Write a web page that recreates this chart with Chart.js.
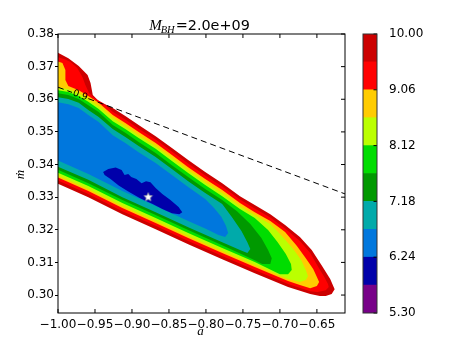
<!DOCTYPE html>
<html><head><meta charset="utf-8">
<script src="https://cdn.jsdelivr.net/npm/chart.js@4.4.1/dist/chart.umd.min.js"></script>
<style>
html,body{margin:0;padding:0;background:#fff;}
#wrap{position:relative;width:463px;height:348px;overflow:hidden;background:#fff;}
#main{position:absolute;left:0;top:0;}
#cbar{position:absolute;left:355px;top:0;}
</style></head><body>
<div id="wrap"><canvas id="main" width="463" height="348"></canvas><canvas id="cbar" width="108" height="348"></canvas></div>
<script>
// ---------- data ----------
const xTicks = [-1.00,-0.95,-0.90,-0.85,-0.80,-0.75,-0.70,-0.65];
const yTicks = [0.30,0.31,0.32,0.33,0.34,0.35,0.36,0.37,0.38];
const xRange = [-1.00,-0.612];
const yRange = [0.2945,0.38];
const levels = [5.30,5.77,6.24,6.71,7.18,7.65,8.12,8.59,9.06,9.53,10.00];
const levelColors = ['#770088','#0000aa','#0077dd','#00aaaa','#009900','#00dd00','#bbff00','#ffcc00','#ff0000','#cc0000'];
const cbarTicks = [5.30,6.24,7.18,8.12,9.06,10.00];
const titleMain = 'M', titleSub = 'BH', titleRest = '=2.0e+09';
const xLabel = 'a', yLabel = '\u1E41';
const bestFit = [-0.878,0.3300];
const dashSegA = [[-1.000,0.3637],[-0.981,0.3621]];
const dashSegB = [[-0.959,0.3602],[-0.612,0.3310]];
const dashLabel = {text:'0.9', a:-0.970, m:0.3612};

// region where value < 10.00
const regionLt1000 = [[-1.002,0.3745],[-0.986,0.3726],[-0.972,0.3702],[-0.960,0.3674],[-0.956,0.3650],[-0.953,0.3613],[-0.945,0.3595],[-0.926,0.3573],[-0.909,0.3549],[-0.891,0.3521],[-0.868,0.3487],[-0.846,0.3451],[-0.824,0.3414],[-0.801,0.3377],[-0.778,0.3343],[-0.754,0.3303],[-0.734,0.3276],[-0.713,0.3248],[-0.693,0.3215],[-0.673,0.3178],[-0.657,0.3138],[-0.643,0.3089],[-0.632,0.3049],[-0.626,0.3018],[-0.630,0.3003],[-0.638,0.2997],[-0.646,0.2997],[-0.659,0.3003],[-0.689,0.3025],[-0.734,0.3067],[-0.778,0.3110],[-0.824,0.3156],[-0.868,0.3202],[-0.913,0.3248],[-0.959,0.3300],[-1.002,0.3343]];
const regionLt953 = [[-1.002,0.3730],[-0.991,0.3723],[-0.983,0.3714],[-0.974,0.3696],[-0.967,0.3668],[-0.963,0.3644],[-0.958,0.3619],[-0.951,0.3604],[-0.940,0.3589],[-0.926,0.3562],[-0.909,0.3538],[-0.891,0.3510],[-0.868,0.3477],[-0.846,0.3440],[-0.824,0.3403],[-0.801,0.3366],[-0.778,0.3333],[-0.754,0.3293],[-0.734,0.3265],[-0.713,0.3238],[-0.693,0.3204],[-0.673,0.3166],[-0.659,0.3129],[-0.649,0.3089],[-0.640,0.3055],[-0.635,0.3034],[-0.634,0.3025],[-0.638,0.3015],[-0.649,0.3009],[-0.659,0.3012],[-0.689,0.3034],[-0.734,0.3077],[-0.778,0.3120],[-0.824,0.3166],[-0.868,0.3212],[-0.913,0.3257],[-0.959,0.3310],[-1.002,0.3353]];
const regionLt906 = [[-1.002,0.3717],[-0.994,0.3711],[-0.990,0.3690],[-0.990,0.3659],[-0.986,0.3641],[-0.972,0.3628],[-0.959,0.3610],[-0.945,0.3589],[-0.926,0.3552],[-0.909,0.3527],[-0.891,0.3500],[-0.868,0.3466],[-0.846,0.3429],[-0.824,0.3392],[-0.801,0.3356],[-0.778,0.3322],[-0.754,0.3282],[-0.734,0.3254],[-0.713,0.3227],[-0.693,0.3193],[-0.677,0.3150],[-0.665,0.3113],[-0.655,0.3080],[-0.650,0.3055],[-0.647,0.3040],[-0.650,0.3028],[-0.659,0.3021],[-0.673,0.3031],[-0.689,0.3043],[-0.734,0.3086],[-0.778,0.3129],[-0.824,0.3175],[-0.868,0.3221],[-0.913,0.3267],[-0.959,0.3319],[-1.002,0.3362]];
const regionLt859 = [[-1.002,0.3638],[-0.986,0.3631],[-0.972,0.3619],[-0.959,0.3601],[-0.945,0.3579],[-0.926,0.3543],[-0.909,0.3518],[-0.891,0.3490],[-0.868,0.3457],[-0.846,0.3420],[-0.824,0.3383],[-0.801,0.3346],[-0.778,0.3313],[-0.754,0.3273],[-0.734,0.3245],[-0.713,0.3218],[-0.696,0.3178],[-0.682,0.3141],[-0.671,0.3107],[-0.665,0.3077],[-0.662,0.3058],[-0.665,0.3046],[-0.673,0.3040],[-0.689,0.3049],[-0.734,0.3092],[-0.778,0.3135],[-0.824,0.3181],[-0.868,0.3227],[-0.913,0.3273],[-0.959,0.3325],[-1.002,0.3368]];
const regionLt812 = [[-1.002,0.3628],[-0.986,0.3622],[-0.972,0.3610],[-0.959,0.3592],[-0.945,0.3570],[-0.926,0.3533],[-0.909,0.3509],[-0.891,0.3481],[-0.868,0.3448],[-0.846,0.3411],[-0.824,0.3374],[-0.801,0.3337],[-0.778,0.3303],[-0.754,0.3264],[-0.734,0.3236],[-0.716,0.3199],[-0.703,0.3162],[-0.692,0.3126],[-0.685,0.3095],[-0.684,0.3077],[-0.689,0.3064],[-0.700,0.3064],[-0.734,0.3101],[-0.778,0.3144],[-0.824,0.3190],[-0.868,0.3236],[-0.913,0.3282],[-0.959,0.3334],[-1.002,0.3377]];
const regionLt765 = [[-1.002,0.3619],[-0.986,0.3613],[-0.972,0.3601],[-0.959,0.3582],[-0.945,0.3561],[-0.926,0.3521],[-0.909,0.3497],[-0.891,0.3469],[-0.868,0.3435],[-0.846,0.3398],[-0.824,0.3362],[-0.801,0.3325],[-0.778,0.3291],[-0.758,0.3257],[-0.740,0.3218],[-0.725,0.3175],[-0.716,0.3138],[-0.711,0.3113],[-0.713,0.3095],[-0.724,0.3095],[-0.734,0.3107],[-0.778,0.3153],[-0.824,0.3199],[-0.868,0.3245],[-0.913,0.3291],[-0.959,0.3343],[-1.002,0.3386]];
const regionLt718 = [[-1.002,0.3607],[-0.986,0.3601],[-0.972,0.3589],[-0.959,0.3567],[-0.945,0.3546],[-0.926,0.3509],[-0.909,0.3484],[-0.891,0.3457],[-0.868,0.3423],[-0.846,0.3386],[-0.824,0.3349],[-0.801,0.3313],[-0.778,0.3279],[-0.765,0.3239],[-0.752,0.3196],[-0.744,0.3162],[-0.740,0.3141],[-0.744,0.3129],[-0.754,0.3138],[-0.778,0.3162],[-0.824,0.3208],[-0.868,0.3254],[-0.913,0.3300],[-0.959,0.3353],[-1.002,0.3395]];
const regionLt671 = [[-1.002,0.3592],[-0.986,0.3585],[-0.972,0.3573],[-0.959,0.3552],[-0.945,0.3530],[-0.926,0.3490],[-0.909,0.3466],[-0.891,0.3438],[-0.868,0.3405],[-0.846,0.3368],[-0.824,0.3331],[-0.801,0.3294],[-0.789,0.3267],[-0.779,0.3239],[-0.773,0.3212],[-0.770,0.3190],[-0.774,0.3178],[-0.783,0.3184],[-0.801,0.3204],[-0.824,0.3227],[-0.868,0.3273],[-0.913,0.3319],[-0.959,0.3371],[-1.002,0.3414]];
const regionLt624 = [[-0.939,0.3377],[-0.932,0.3386],[-0.922,0.3391],[-0.914,0.3383],[-0.910,0.3368],[-0.905,0.3371],[-0.901,0.3362],[-0.894,0.3356],[-0.887,0.3343],[-0.881,0.3349],[-0.875,0.3346],[-0.868,0.3328],[-0.859,0.3310],[-0.848,0.3291],[-0.837,0.3270],[-0.832,0.3254],[-0.836,0.3248],[-0.846,0.3251],[-0.859,0.3264],[-0.872,0.3279],[-0.889,0.3297],[-0.905,0.3317],[-0.918,0.3336],[-0.929,0.3356],[-0.937,0.3368]];

// region list, outermost first, paired with the colour index of its band
const regions = [regionLt1000,regionLt953,regionLt906,regionLt859,regionLt812,regionLt765,regionLt718,regionLt671,regionLt624];
const regionColorIdx = [9,8,7,6,5,4,3,2,1];

// ---------- rendering ----------
Chart.defaults.font.family = "'DejaVu Sans', sans-serif";
Chart.defaults.font.size = 12;
Chart.defaults.color = '#000';

const toXY = arr => arr.map(p => ({x:p[0], y:p[1]}));
const fmt = v => (v < 0 ? '\u2212' : '') + Math.abs(v).toFixed(2);

function starImage(r){
  const s = Math.ceil(r*2+3), c = document.createElement('canvas');
  c.width = s; c.height = s;
  const g = c.getContext('2d');
  g.beginPath();
  for (let i=0;i<10;i++){
    const ang = -Math.PI/2 + i*Math.PI/5, rr = (i%2) ? r*0.45 : r;
    g.lineTo(s/2 + rr*Math.cos(ang), s/2 + rr*Math.sin(ang));
  }
  g.closePath();
  g.fillStyle = '#fff'; g.fill();
  g.strokeStyle = '#9a9a9a'; g.lineWidth = 0.6; g.stroke();
  return c;
}

const datasets = regions.map((r,i) => ({
  type:'line', data: toXY(r), fill:'shape', backgroundColor: levelColors[regionColorIdx[i]],
  borderWidth:0, borderColor:'rgba(0,0,0,0)', pointRadius:0, tension:0, order: 100 - i
}));
[dashSegA, dashSegB].forEach(seg => datasets.push({
  type:'line', data: toXY(seg), fill:false, borderColor:'#000', borderWidth:1,
  borderDash:[6,4], pointRadius:0, tension:0, order:2
}));
datasets.push({type:'scatter', data: toXY([bestFit]), pointStyle: starImage(4.5), pointRadius:5, order:0});

const decor = {
  id:'decor',
  afterDraw(chart){
    const {ctx, chartArea:ca, scales:{x, y}} = chart;
    ctx.save();
    ctx.strokeStyle = '#000'; ctx.lineWidth = 1;
    ctx.beginPath();
    xTicks.forEach(v => { const px = x.getPixelForValue(v);
      ctx.moveTo(px, ca.bottom); ctx.lineTo(px, ca.bottom-4);
      ctx.moveTo(px, ca.top); ctx.lineTo(px, ca.top+4); });
    yTicks.forEach(v => { const py = y.getPixelForValue(v);
      ctx.moveTo(ca.right, py); ctx.lineTo(ca.right-4, py); });
    ctx.stroke();
    ctx.strokeRect(ca.left, ca.top, ca.right-ca.left, ca.bottom-ca.top);

    // contour label
    const p1 = [x.getPixelForValue(dashSegA[0][0]), y.getPixelForValue(dashSegA[0][1])];
    const p2 = [x.getPixelForValue(dashSegB[1][0]), y.getPixelForValue(dashSegB[1][1])];
    const ang = Math.atan2(p2[1]-p1[1], p2[0]-p1[0]);
    ctx.save();
    ctx.translate(x.getPixelForValue(dashLabel.a), y.getPixelForValue(dashLabel.m));
    ctx.rotate(ang);
    ctx.font = "9.5px 'DejaVu Sans'"; ctx.fillStyle = '#000';
    ctx.textAlign = 'center'; ctx.textBaseline = 'middle';
    ctx.fillText(dashLabel.text, 0, 0);
    ctx.restore();

    // title
    const cx = (ca.left + ca.right)/2, base = 29.5;
    const fM = "italic 15px 'Liberation Serif'", fS = "italic 10.5px 'Liberation Serif'", fN = "14.4px 'DejaVu Sans'";
    ctx.font = fM; const wM = ctx.measureText(titleMain).width;
    ctx.font = fS; const wS = ctx.measureText(titleSub).width;
    ctx.font = fN; const wN = ctx.measureText(titleRest).width;
    let tx = cx - (wM + wS + wN)/2 - 2;
    ctx.fillStyle = '#000'; ctx.textAlign = 'left'; ctx.textBaseline = 'alphabetic';
    ctx.font = fM; ctx.fillText(titleMain, tx, base); tx += wM;
    ctx.font = fS; ctx.fillText(titleSub, tx - 1, base + 3.5); tx += wS;
    ctx.font = fN; ctx.fillText(titleRest, tx, base);

    // axis labels
    ctx.font = "italic 13px 'Liberation Serif'"; ctx.textAlign = 'center';
    ctx.fillText(xLabel, cx - 1, 335);
    ctx.save();
    ctx.translate(24, (ca.top + ca.bottom)/2 + 1);
    ctx.rotate(-Math.PI/2);
    ctx.fillText(yLabel, 0, 0);
    ctx.restore();
    ctx.restore();
  }
};

new Chart(document.getElementById('main'), {
  type:'line',
  data:{datasets},
  options:{
    responsive:false, animation:false, devicePixelRatio:1,
    layout:{padding:{top:34, right:118, bottom:0, left:0}},
    plugins:{legend:{display:false}, tooltip:{enabled:false}},
    scales:{
      x:{type:'linear', min:xRange[0], max:xRange[1],
         afterBuildTicks: s => { s.ticks = xTicks.map(v => ({value:v})); },
         afterFit: s => { s.height = 35; },
         grid:{display:false}, border:{display:false},
         ticks:{padding:-3, maxRotation:0, minRotation:0, autoSkip:false, callback: v => fmt(v)}},
      y:{type:'linear', min:yRange[0], max:yRange[1],
         afterBuildTicks: s => { s.ticks = yTicks.map(v => ({value:v})); },
         afterFit: s => { s.width = 58; },
         grid:{drawOnChartArea:false, drawTicks:true, tickLength:3, color:'#000'}, border:{display:false},
         ticks:{padding:1, autoSkip:false, callback: v => v.toFixed(2)}}
    }
  },
  plugins:[decor]
});

// ---------- colour bar ----------
const cbarDecor = {
  id:'cbarDecor',
  afterDraw(chart){
    const {ctx, chartArea:ca, scales:{y}} = chart;
    ctx.save();
    ctx.strokeStyle = '#000'; ctx.lineWidth = 1;
    ctx.beginPath();
    cbarTicks.forEach(v => { const py = y.getPixelForValue(v);
      ctx.moveTo(ca.right, py); ctx.lineTo(ca.right-3.5, py); });
    ctx.stroke();
    ctx.strokeStyle = '#333';
    ctx.strokeRect(ca.left, ca.top, ca.right-ca.left, ca.bottom-ca.top);
    ctx.restore();
  }
};
new Chart(document.getElementById('cbar'), {
  type:'bar',
  data:{labels:[''], datasets: levelColors.map((c,i) => ({
    data:[[levels[i], levels[i+1]]], backgroundColor:c, borderWidth:0,
    barPercentage:1, categoryPercentage:1, grouped:false }))},
  options:{
    responsive:false, animation:false, devicePixelRatio:1,
    layout:{padding:{top:34, bottom:35, left:8, right:0}},
    plugins:{legend:{display:false}, tooltip:{enabled:false}},
    scales:{
      x:{display:false},
      y:{position:'right', min:levels[0], max:levels[levels.length-1],
         afterBuildTicks: s => { s.ticks = cbarTicks.map(v => ({value:v})); },
         afterFit: s => { s.width = 86; },
         grid:{display:false}, border:{display:false},
         ticks:{padding:4, autoSkip:false, callback: v => v.toFixed(2)}}
    }
  },
  plugins:[cbarDecor]
});
</script>
</body></html>
